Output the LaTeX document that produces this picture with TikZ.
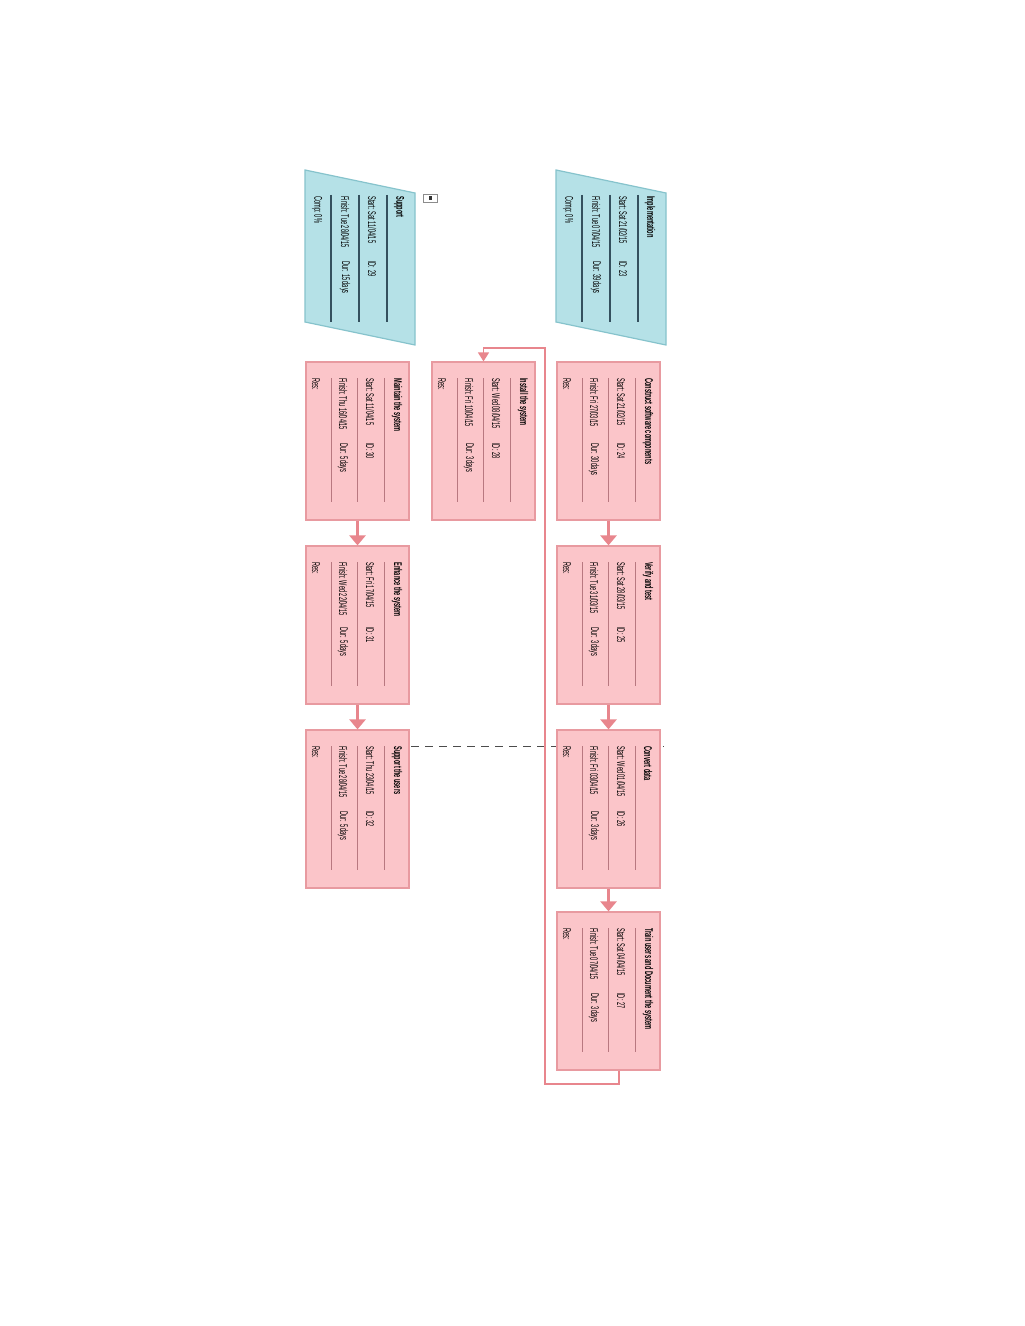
\documentclass[tikz,border=0pt]{standalone}
\usepackage{graphicx}
\usepackage{fontspec}
\setmainfont{Liberation Sans}
\usetikzlibrary{arrows.meta}
\definecolor{pinkfill}{HTML}{FBC5C9}
\definecolor{pinkdraw}{HTML}{E89AA0}
\definecolor{pinkline}{HTML}{B87880}
\definecolor{cyanfill}{HTML}{B5E1E7}
\definecolor{cyandraw}{HTML}{86C3CC}
\definecolor{cyanline}{HTML}{34505E}
\definecolor{arrowpink}{HTML}{E8868D}
\newcommand{\squeeze}[1]{\scalebox{0.5}[1]{#1}}
\tikzset{
  taskshape/.style={rectangle, draw=pinkdraw, fill=pinkfill, line width=0.6pt,
    minimum width=51.5pt, minimum height=79pt, inner sep=0pt},
  sumshape/.style={draw=cyandraw, fill=cyanfill, line width=0.6pt},
  pinksep/.style={draw=pinkline, line width=0.45pt},
  cyansep/.style={draw=cyanline, line width=0.6pt},
  rtext/.style={rotate=-90, anchor=west, inner sep=0pt, text=black,
    font=\fontsize{5.6}{6.5}\selectfont},
  rtitle/.style={rtext, font=\bfseries\fontsize{5.6}{6.5}\selectfont},
  bigarrow/.style={draw=arrowpink, line width=1.7pt,
    -{Triangle[width=8pt,length=5pt]}},
  thinarrow/.style={draw=arrowpink, line width=0.7pt,
    -{Triangle[width=5.5pt,length=4.5pt]}},
  dashline/.style={draw=black!70, line width=0.45pt, dash pattern=on 4pt off 3pt}
}
% #1 name, #2 left x, #3 top y, #4 title, #5 start, #6 id, #7 finish, #8 dur
\newcommand{\taskbox}[8]{%
  \node[taskshape] (#1) at ({#2+51.5},{#3+79}) {};
  \foreach \dx in {25,51,78} \draw[pinksep] ({#2+\dx},{#3+16}) -- ({#2+\dx},{#3+140});
  \node[rtitle] (#1-t) at ({#2+91},{#3+16}) {\squeeze{#4}};
  \node[rtext] (#1-s) at ({#2+64},{#3+16}) {\squeeze{Start: #5}};
  \node[rtext] (#1-i) at ({#2+64},{#3+81}) {\squeeze{ID: #6}};
  \node[rtext] (#1-f) at ({#2+37},{#3+16}) {\squeeze{Finish: #7}};
  \node[rtext] (#1-d) at ({#2+37},{#3+81}) {\squeeze{Dur: #8}};
  \node[rtext] (#1-r) at ({#2+10},{#3+16}) {\squeeze{Res:}};
}
\newcommand{\sumbox}[8]{%
  \path[sumshape] (#2,#3) -- ({#2+110},{#3+23}) -- ({#2+110},{#3+175}) -- (#2,{#3+152}) -- cycle;
  \coordinate (#1) at ({#2+55},{#3+87});
  \foreach \dx in {26,54,82} \draw[cyansep] ({#2+\dx},{#3+25}) -- ({#2+\dx},{#3+152});
  \node[rtitle] (#1-t) at ({#2+94},{#3+26}) {\squeeze{#4}};
  \node[rtext] (#1-s) at ({#2+67},{#3+26}) {\squeeze{Start: #5}};
  \node[rtext] (#1-i) at ({#2+67},{#3+91}) {\squeeze{ID: #6}};
  \node[rtext] (#1-f) at ({#2+40},{#3+26}) {\squeeze{Finish: #7}};
  \node[rtext] (#1-d) at ({#2+40},{#3+91}) {\squeeze{Dur: #8}};
  \node[rtext] (#1-c) at ({#2+12},{#3+26}) {\squeeze{Comp: 0\%}};
}
\begin{document}
\begin{tikzpicture}[x=0.5pt,y=-0.5pt]
\useasboundingbox (0,0) rectangle (1024,1326);
\fill[white] (0,0) rectangle (1024,1326);

% summary tasks
\sumbox{impl}{556}{170}{Implementation}{Sat 21/02/15}{23}{Tue 07/04/15}{39 days}
\sumbox{supp}{305}{170}{Support}{Sat 11/04/15}{29}{Tue 28/04/15}{15 days}
\node[draw=black!45, fill=white, line width=0.4pt, minimum width=7pt, minimum height=4pt,
  inner sep=0pt] (collapse) at (430,198) {};
\node[fill=black!80, minimum width=1.5pt, minimum height=2pt, inner sep=0pt] (collapse-dot) at (collapse) {};

% dashed link (behind boxes)
\coordinate (dash-r) at (664,746);
\draw[dashline] (411,746) -- (dash-r);

% tasks
\taskbox{construct}{557}{362}{Construct software components}{Sat 21/02/15}{24}{Fri 27/03/15}{30 days}
\taskbox{verify}{557}{546}{Verify and test}{Sat 28/03/15}{25}{Tue 31/03/15}{3 days}
\taskbox{convert}{557}{730}{Convert data}{Wed 01/04/15}{26}{Fri 03/04/15}{3 days}
\taskbox{train}{557}{912}{Train users and Document the system}{Sat 04/04/15}{27}{Tue 07/04/15}{3 days}
\taskbox{install}{432}{362}{Install the system}{Wed 08/04/15}{28}{Fri 10/04/15}{3 days}
\taskbox{maintain}{306}{362}{Maintain the system}{Sat 11/04/15}{30}{Thu 16/04/15}{5 days}
\taskbox{enhance}{306}{546}{Enhance the system}{Fri 17/04/15}{31}{Wed 22/04/15}{5 days}
\taskbox{supusers}{306}{730}{Support the users}{Thu 23/04/15}{32}{Tue 28/04/15}{5 days}

% connectors
\draw[bigarrow] (construct) -- (verify);
\draw[bigarrow] (verify) -- (convert);
\draw[bigarrow] (convert) -- (train);
\draw[bigarrow] (maintain) -- (enhance);
\draw[bigarrow] (enhance) -- (supusers);

\coordinate (tr-out) at ([xshift=5.25pt]train.south);
\coordinate (lp-b) at (545,1084);
\coordinate (lp-t) at (545,348);
\draw[thinarrow] (tr-out) |- (lp-b) -- (lp-t) -| (install.north);
\end{tikzpicture}
\end{document}
